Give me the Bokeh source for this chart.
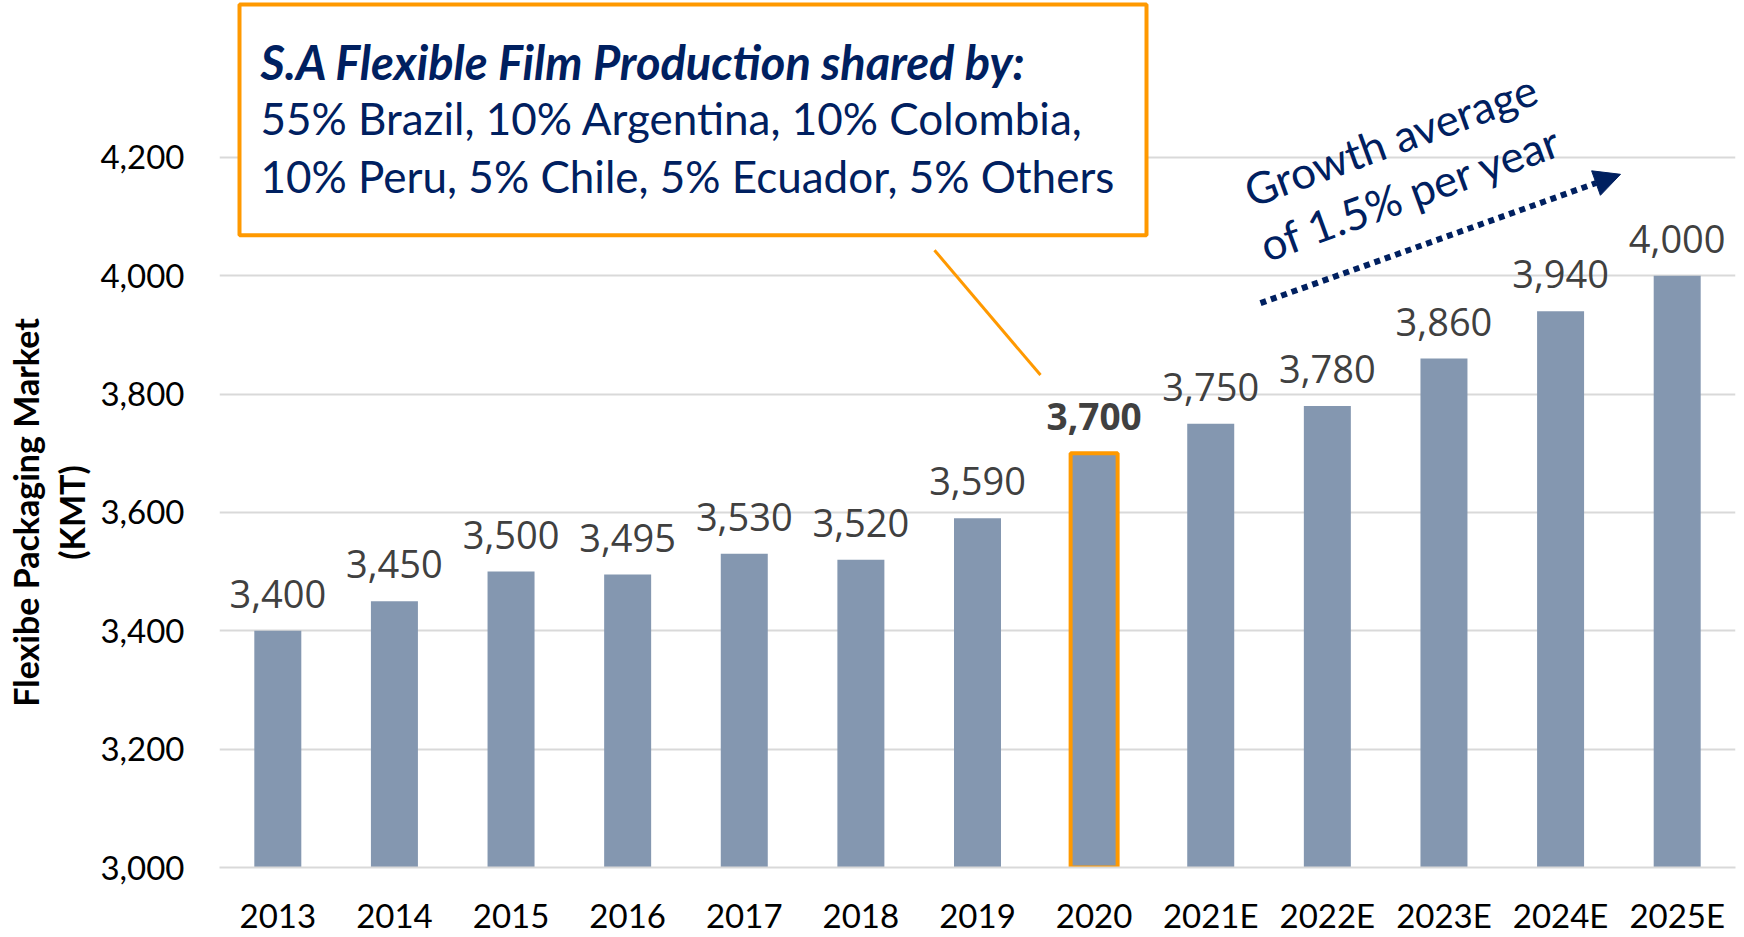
from bokeh.plotting import figure
from bokeh.models import (Range1d, FixedTicker, Label, BoxAnnotation, Arrow,
                          NormalHead, ColumnDataSource, NumeralTickFormatter,
                          LinearAxis)
from bokeh.core.properties import value
from bokeh.embed import file_html
from bokeh.resources import INLINE

# ---------------- data ----------------
years = ["2013", "2014", "2015", "2016", "2017", "2018", "2019", "2020",
         "2021E", "2022E", "2023E", "2024E", "2025E"]
volumes = [3400, 3450, 3500, 3495, 3530, 3520, 3590, 3700,
           3750, 3780, 3860, 3940, 4000]
highlight_year = "2020"
y_ticks = [3000, 3200, 3400, 3600, 3800, 4000, 4200]
y_title_outer = "Flexibe Packaging Market"
y_title_inner = "(KMT)"
box_title = "S.A Flexible Film Production shared by:"
box_lines = ["55% Brazil, 10% Argentina, 10% Colombia,",
             "10% Peru, 5% Chile, 5% Ecuador, 5% Others"]
growth_lines = ["Growth average", "of 1.5% per year"]

# ---------------- styles ----------------
BAR = "#8497B0"
ORANGE = "#FF9900"
NAVY = "#002060"
GRID = "#D9D9D9"
LABEL_GRAY = "#404040"
PAD = "\u00a0" * 19   # shifts the centred axis titles down toward the plot's middle

# layout (page pixels) used to place free annotations
FRAME_L, FRAME_R, FRAME_B = 219, 1735, 868
PX_PER_CAT = (FRAME_R - FRAME_L) / len(years)
PX_PER_UNIT = 118.5 / 200.0
Y0 = 3000
Y1 = Y0 + FRAME_B / PX_PER_UNIT


def dx(px):
    return (px - FRAME_L) / PX_PER_CAT


def dy(py):
    return Y0 + (FRAME_B - py) / PX_PER_UNIT


p = figure(x_range=years, y_range=Range1d(Y0, Y1), width=1740, height=937,
           output_backend="svg", toolbar_location=None,
           min_border_left=FRAME_L, min_border_right=1740 - FRAME_R,
           min_border_top=0, min_border_bottom=937 - FRAME_B,
           outline_line_color=None,
           background_fill_color="white", border_fill_color="white")

src = ColumnDataSource(dict(
    year=years,
    vol=volumes,
    lab=[f"{v:,}" for v in volumes],
    edge=[1.0 if y == highlight_year else 0.0 for y in years],
    style=["bold" if y == highlight_year else "normal" for y in years],
    size=["37px" if y == highlight_year else "38px" for y in years],
))

p.vbar(x="year", top="vol", bottom=Y0, width=0.403, source=src,
       fill_color=BAR, line_color=ORANGE, line_alpha="edge", line_width=4)

p.text(x="year", y="vol", text="lab", source=src, y_offset=-37,
       text_align="center", text_baseline="middle",
       text_font=value("Open Sans"), text_font_size="size",
       text_font_style="style", text_color=LABEL_GRAY)

# axes & grid
p.xgrid.grid_line_color = None
p.ygrid.grid_line_color = GRID
p.ygrid.grid_line_width = 2
p.yaxis.ticker = FixedTicker(ticks=y_ticks)
p.yaxis.formatter = NumeralTickFormatter(format="0,0")
p.yaxis.axis_line_color = None
p.yaxis.major_tick_line_color = None
p.yaxis.minor_tick_line_color = None
p.yaxis.major_label_standoff = 29
p.yaxis.major_label_text_font = "Lato"
p.yaxis.major_label_text_font_size = "33px"
p.yaxis.major_label_text_color = "#000000"
p.yaxis.axis_label = y_title_inner + PAD
p.yaxis.axis_label_standoff = 5
p.yaxis.axis_label_text_font = "Lato"
p.yaxis.axis_label_text_font_style = "bold"
p.yaxis.axis_label_text_font_size = "34px"
p.yaxis.axis_label_text_color = "#000000"

outer = LinearAxis(ticker=FixedTicker(ticks=[]), axis_label=y_title_outer + PAD,
                   axis_line_color=None, major_tick_line_color=None,
                   minor_tick_line_color=None, major_label_standoff=0,
                   axis_label_standoff=3, axis_label_text_font="Lato",
                   axis_label_text_font_style="bold",
                   axis_label_text_font_size="34px",
                   axis_label_text_color="#000000")
p.add_layout(outer, "left")

p.xaxis.axis_line_color = GRID
p.xaxis.axis_line_width = 2
p.xaxis.major_tick_line_color = None
p.xaxis.minor_tick_line_color = None
p.xaxis.major_label_standoff = 21
p.xaxis.major_label_text_font = "Lato"
p.xaxis.major_label_text_font_size = "33px"
p.xaxis.major_label_text_color = "#000000"

# annotation box
p.add_layout(BoxAnnotation(left=dx(239), right=dx(1146), top=dy(4), bottom=dy(235),
                           fill_color="white", fill_alpha=1.0,
                           line_color=ORANGE, line_alpha=1.0, line_width=4,
                           level="overlay"))
p.add_layout(Label(x=dx(260), y=dy(62), text=box_title, text_align="left",
                   text_baseline="middle", text_font="Lato",
                   text_font_style="bold italic", text_font_size="47px",
                   text_color=NAVY, level="overlay"))
for txt, py in zip(box_lines, [118, 176]):
    p.add_layout(Label(x=dx(260), y=dy(py), text=txt, text_align="left",
                       text_baseline="middle", text_font="Lato",
                       text_font_size="44px", text_color=NAVY, level="overlay"))

# connector from box to highlighted bar
p.add_layout(Arrow(x_start=dx(934), y_start=dy(250), x_end=dx(1040), y_end=dy(375),
                   line_color=ORANGE, line_width=3, end=None))

# growth arrow and text
p.add_layout(Arrow(x_start=dx(1260), y_start=dy(303), x_end=dx(1620), y_end=dy(174),
                   line_color=NAVY, line_width=6, line_dash="6 5",
                   end=NormalHead(size=26, fill_color=NAVY, line_color=NAVY)))
for txt, (px, py) in zip(growth_lines, [(1390, 139), (1410, 192)]):
    p.add_layout(Label(x=dx(px), y=dy(py), text=txt, angle=20, angle_units="deg",
                       text_align="center", text_baseline="middle",
                       text_font="Lato", text_font_size="44px", text_color=NAVY))

open("out.html", "w").write(file_html(p, INLINE))
